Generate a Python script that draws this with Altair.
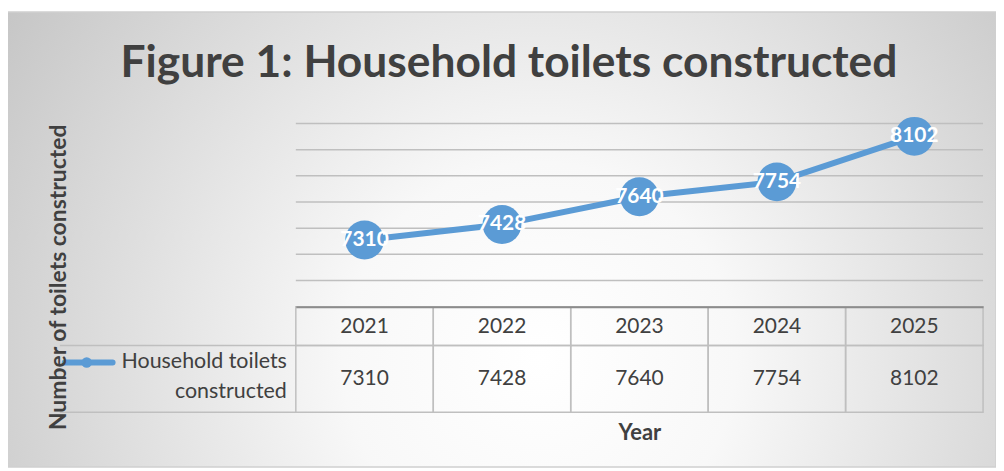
import altair as alt
import pandas as pd

# ---- data ----
years = ["2021", "2022", "2023", "2024", "2025"]
toilets = [7310, 7428, 7640, 7754, 8102]
series_name = "Household toilets constructed"
legend_lines = ["Household toilets", "constructed"]
y_ticks = [6800, 7000, 7200, 7400, 7600, 7800, 8000, 8200]
title_text = "Figure 1: Household toilets constructed"
x_title = "Year"
y_title = "Number of toilets constructed"

df = pd.DataFrame({"Year": years, "value": toilets})

# ---- layout ----
W, H = 690, 184
PL, PT, PR, PB = 289, 115, 13, 161
BLUE = "#5B9BD5"
TXT = "#404040"
GRID = "#bfbfbf"
FONT = "Lato"

x_enc = alt.X("Year:N", sort=years,
              scale=alt.Scale(paddingInner=0, paddingOuter=0),
              axis=alt.Axis(labels=False, ticks=False, domain=True, domainColor="#8c8c8c",
                            domainWidth=2, grid=False, title=x_title, zindex=1,
                            titleFont=FONT, titleFontSize=22, titleFontWeight="bold",
                            titleColor=TXT, titleBaseline="middle", titleY=126))
y_enc = alt.Y("value:Q", scale=alt.Scale(domain=[y_ticks[0], y_ticks[-1]], nice=False, zero=False),
              axis=alt.Axis(values=y_ticks, labels=False, ticks=False, domain=False,
                            grid=False, zindex=1,
                            title=y_title, titleFont=FONT, titleFontSize=23,
                            titleFontWeight="bold", titleColor=TXT, titleAngle=270,
                            titleAlign="center", titleBaseline="middle",
                            titleX=-238, titleY=154))

base = alt.Chart(df).encode(x=x_enc, y=y_enc)

one = alt.Chart(pd.DataFrame({"a": [0]}))

background = one.mark_rect(
    fill=alt.RadialGradient(
        gradient="radial",
        stops=[alt.GradientStop(offset=0, color="#ffffff"),
               alt.GradientStop(offset=0.3, color="#f8f8f8"),
               alt.GradientStop(offset=1, color="#c4c4c4")],
        x1=0.54, y1=0.62, r1=0.0, x2=0.54, y2=0.62, r2=0.66),
    stroke="#d0d0d0", strokeWidth=1.5
).encode(x=alt.value(-PL - 4), x2=alt.value(W + PR), y=alt.value(-PT + 3), y2=alt.value(H + PB))

gridlines = alt.Chart(pd.DataFrame({"value": y_ticks[1:]})).mark_rule(
    color=GRID, strokeWidth=1.5).encode(y=alt.Y("value:Q"))

title = one.mark_text(font=FONT, fontSize=44.5, fontWeight="bold", color=TXT,
                      align="center", baseline="middle").encode(
    x=alt.value(214), y=alt.value(-60), text=alt.value(title_text))

line = base.mark_line(color=BLUE, strokeWidth=6)
points = base.mark_circle(color=BLUE, size=1520, opacity=1)
labels = base.mark_text(color="white", font=FONT, fontSize=21, fontWeight="bold",
                        align="center", baseline="middle").encode(text="value:Q")

# ---- data table ----
header_cells = base.mark_rect(fill="transparent", stroke=GRID, strokeWidth=1.5).encode(
    y=alt.value(H), y2=alt.value(H + 39))
value_cells = base.mark_rect(fill="transparent", stroke=GRID, strokeWidth=1.5).encode(
    y=alt.value(H + 39), y2=alt.value(H + 106))
header_text = base.mark_text(color=TXT, font=FONT, fontSize=21,
                             align="center", baseline="middle").encode(
    y=alt.value(204), text="Year:N")
value_text = base.mark_text(color=TXT, font=FONT, fontSize=21,
                            align="center", baseline="middle").encode(
    y=alt.value(257), text="value:Q")

leg_rule1 = one.mark_rule(color=GRID, strokeWidth=1.5).encode(
    x=alt.value(-237), x2=alt.value(0), y=alt.value(H + 39))
leg_rule2 = one.mark_rule(color=GRID, strokeWidth=1.5).encode(
    x=alt.value(-237), x2=alt.value(0), y=alt.value(H + 106))
leg_line = one.mark_rule(color=BLUE, strokeWidth=6, strokeCap="round").encode(
    x=alt.value(-232), x2=alt.value(-184), y=alt.value(240))
leg_dot = one.mark_circle(color=BLUE, size=110, opacity=1).encode(
    x=alt.value(-210), y=alt.value(240))
leg_df = pd.DataFrame({"t": legend_lines, "i": [0, 1]})
leg_text = alt.Chart(leg_df).mark_text(
    color=TXT, font=FONT, fontSize=21.5, align="right", baseline="middle").encode(
    x=alt.value(-9), y=alt.value(240), text="t:N"
).transform_filter("datum.i == 0")
leg_text2 = alt.Chart(leg_df).mark_text(
    color=TXT, font=FONT, fontSize=21.5, align="right", baseline="middle").encode(
    x=alt.value(-9), y=alt.value(270), text="t:N"
).transform_filter("datum.i == 1")

chart = alt.layer(
    background, gridlines, line, points, labels,
    header_cells, value_cells, header_text, value_text,
    leg_rule1, leg_rule2, leg_line, leg_dot, leg_text, leg_text2, title
).properties(
    width=W, height=H,
    autosize=alt.AutoSizeParams(type="none"),
    padding={"left": PL, "top": PT, "right": PR, "bottom": PB},
).configure_view(stroke=None).configure(background="white")

chart.save("out.html", embed_options={"renderer": "svg", "actions": False})
